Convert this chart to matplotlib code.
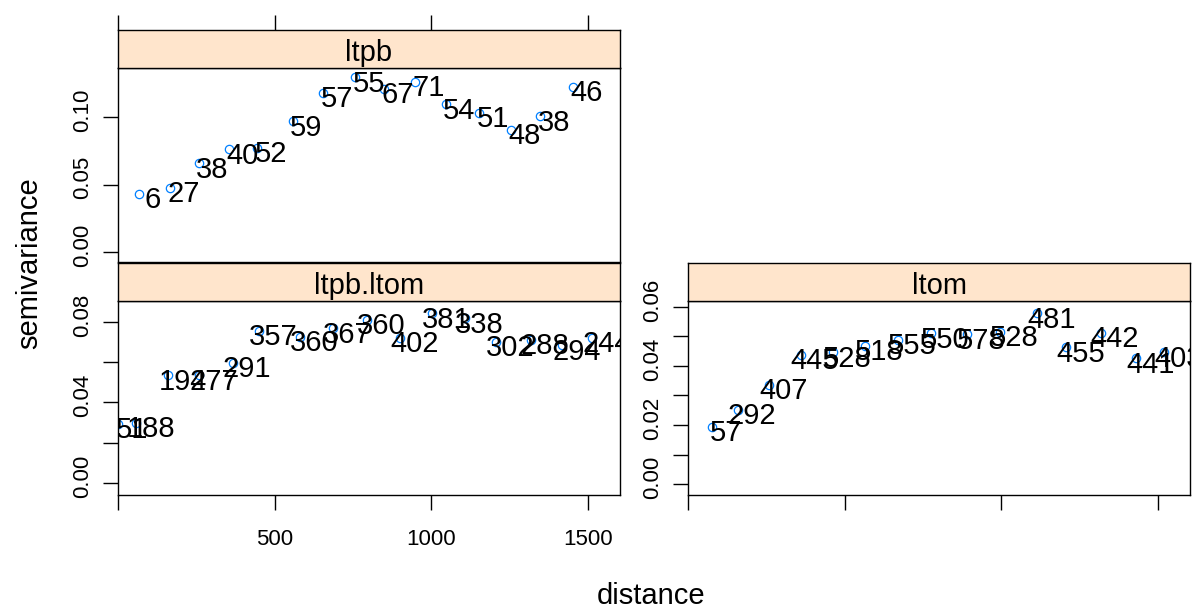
import matplotlib
matplotlib.use('Agg')
import matplotlib.pyplot as plt
from matplotlib.transforms import ScaledTranslation

plt.rcParams['font.family'] = ['Liberation Sans', 'DejaVu Sans']

# sample variograms: lag distance, semivariance and number of point pairs per lag
ltpb_dist = [67, 165, 258, 354, 444, 557, 655, 757, 850, 948, 1046, 1152, 1253, 1348, 1452]
ltpb_gamma = [0.0430, 0.0476, 0.0657, 0.0761, 0.0773, 0.0970, 0.1180, 0.1295, 0.1210,
              0.1261, 0.1094, 0.1032, 0.0904, 0.1007, 0.1222]
ltpb_np = [6, 27, 38, 40, 52, 59, 57, 55, 67, 71, 54, 51, 48, 38, 46]

cross_dist = [0, 59, 161, 260, 366, 449, 581, 685, 796, 900, 1003, 1107, 1205, 1317, 1417, 1514]
cross_gamma = [0.0293, 0.0300, 0.0536, 0.0536, 0.0596, 0.0757, 0.0725, 0.0769, 0.0811,
               0.0720, 0.0844, 0.0819, 0.0700, 0.0710, 0.0685, 0.0720]
cross_np = [51, 188, 194, 277, 291, 357, 360, 367, 360, 402, 381, 338, 302, 288, 294, 244]

ltom_dist = [75, 159, 260, 360, 462, 565, 670, 774, 889, 995, 1115, 1207, 1317, 1429, 1520]
ltom_gamma = [0.0194, 0.0251, 0.0337, 0.0437, 0.0447, 0.0468, 0.0488, 0.0510, 0.0508,
              0.0515, 0.0579, 0.0464, 0.0512, 0.0426, 0.0447]
ltom_np = [57, 292, 407, 445, 528, 518, 555, 550, 578, 528, 481, 455, 442, 441, 403]

x_ticks = [0, 500, 1000, 1500]
x_labels = ['', '500', '1000', '1500']

W, H = 1192, 608
fig = plt.figure(figsize=(W / 100, H / 100), dpi=100)

XLIM = (0, 1602)
STRIP_COL = '#FFE5CC'
PT_COL = '#0080FF'
BIG = 21
SMALL = 16
TICK_LEN = 10.8


def box(left, top, right, bottom):
    # pixel box -> figure fraction rect
    return [left / W, 1 - bottom / H, (right - left) / W, (bottom - top) / H]


def strip(rect, name, top_ticks=False):
    ax = fig.add_axes(rect)
    ax.set_facecolor(STRIP_COL)
    ax.set_xlim(XLIM)
    ax.set_yticks([])
    if top_ticks:
        ax.set_xticks(x_ticks)
        ax.tick_params(axis='x', top=True, bottom=False, labeltop=False, labelbottom=False,
                       direction='out', length=TICK_LEN, width=1)
    else:
        ax.set_xticks([])
    for s in ax.spines.values():
        s.set_linewidth(1)
    ax.text(0.5, 0.195, name, transform=ax.transAxes, ha='center', va='baseline', fontsize=BIG)
    return ax


def panel(rect, dist, gamma, npairs, ylim, yticks, ylabels):
    ax = fig.add_axes(rect)
    ax.plot(dist, gamma, 'o', ms=6, mfc='none', mec=PT_COL, mew=0.9, zorder=2)
    # pair counts sit just right of each point, clipped to the panel
    shift = 0.03 * max(dist)
    for x, y, n in zip(dist, gamma, npairs):
        ax.annotate(str(n), (x + shift, y), xytext=(0, -10.4), textcoords='offset points',
                    ha='center', va='baseline', fontsize=BIG, clip_on=True,
                    annotation_clip=False, zorder=3)
    ax.set_xlim(XLIM)
    ax.set_ylim(ylim)
    ax.set_yticks(yticks, ylabels)
    ax.tick_params(axis='y', direction='out', length=TICK_LEN, width=1, pad=10.8,
                   labelsize=SMALL)
    shift_up = ScaledTranslation(0, 0.07, fig.dpi_scale_trans)
    for lab in ax.get_yticklabels():
        lab.set_rotation(90)
        lab.set_rotation_mode('anchor')
        lab.set_ha('center')
        lab.set_va('baseline')
        lab.set_transform(lab.get_transform() + shift_up)
    for s in ax.spines.values():
        s.set_linewidth(1)
    return ax


# left column: ltpb on top, cross variogram below
ax1 = panel(box(118, 68, 620, 262), ltpb_dist, ltpb_gamma, ltpb_np,
            (-0.0074, 0.1363), [0.0, 0.05, 0.10], ['0.00', '0.05', '0.10'])
ax1.set_xticks([])
strip(box(118, 30, 620, 68), 'ltpb', top_ticks=True)

ax2 = panel(box(118, 301, 620, 495), cross_dist, cross_gamma, cross_np,
            (-0.006, 0.0904), [0.0, 0.02, 0.04, 0.06, 0.08],
            ['0.00', '', '0.04', '', '0.08'])
ax2.set_xticks(x_ticks, x_labels)
ax2.tick_params(axis='x', direction='out', length=TICK_LEN, width=1, pad=14, labelsize=SMALL)
strip(box(118, 263, 620, 301), 'ltpb.ltom')

# right column: ltom
ax3 = panel(box(688, 301, 1190, 495), ltom_dist, ltom_gamma, ltom_np,
            (-0.0037, 0.062), [0.0, 0.01, 0.02, 0.03, 0.04, 0.05, 0.06],
            ['0.00', '', '0.02', '', '0.04', '', '0.06'])
ax3.set_xticks(x_ticks, ['', '', '', ''])
ax3.tick_params(axis='x', direction='out', length=TICK_LEN, width=1)
strip(box(688, 263, 1190, 301), 'ltom')

fig.text(651 / W, 1 - 604 / H, 'distance', ha='center', va='baseline', fontsize=BIG)
fig.text(37 / W, 1 - 263 / H, 'semivariance', rotation=90, rotation_mode='anchor',
         ha='center', va='baseline', fontsize=BIG)

fig.savefig('out.png', dpi=100)
